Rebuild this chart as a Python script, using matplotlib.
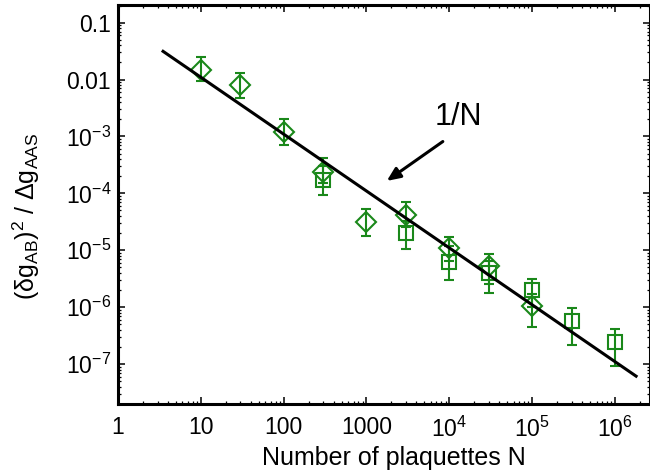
import numpy as np
import matplotlib
matplotlib.use("Agg")
import matplotlib.pyplot as plt

plt.rcParams['font.family'] = ['Liberation Sans', 'DejaVu Sans']
plt.rcParams['mathtext.fontset'] = 'custom'
plt.rcParams['mathtext.rm'] = 'Liberation Sans'
plt.rcParams['mathtext.it'] = 'Liberation Sans'
plt.rcParams['mathtext.bf'] = 'Liberation Sans'
plt.rcParams['mathtext.default'] = 'regular'

# Diamond series
dia_N = [10, 30, 100, 300, 1000, 3000, 1e4, 3e4, 1e5]
dia_y = [0.0147, 0.0081, 0.0012, 2.4e-4, 3.2e-5, 4.2e-5, 1.1e-5, 5.2e-6, 1.03e-6]
dia_lo = [0.0096, 0.0047, 0.00071, 1.5e-4, 1.75e-5, 2.6e-5, 6.5e-6, 2.5e-6, 4.4e-7]
dia_hi = [0.0247, 0.0129, 0.0020, 4.2e-4, 5.4e-5, 7.0e-5, 1.74e-5, 8.5e-6, 1.7e-6]

# Square series
sq_N = [300, 3000, 1e4, 3e4, 1e5, 3e5, 1e6]
sq_y = [1.73e-4, 2.05e-5, 6.3e-6, 4.0e-6, 2.0e-6, 5.6e-7, 2.45e-7]
sq_lo = [9.3e-5, 1.07e-5, 3.0e-6, 1.8e-6, 1.0e-6, 2.2e-7, 9.3e-8]
sq_hi = [3.0e-4, 3.3e-5, 1.2e-5, 6.5e-6, 3.1e-6, 9.5e-7, 4.2e-7]

# 1/N line
fit_N = [3.5, 1.8e6]
fit_coef = 0.11

x_ticks = [1, 10, 100, 1000, 1e4, 1e5, 1e6]
x_labels = ['1', '10', '100', '1000', '10$^{4}$', '10$^{5}$', '10$^{6}$']
y_ticks = [0.1, 0.01, 1e-3, 1e-4, 1e-5, 1e-6, 1e-7]
y_labels = ['0.1', '0.01', '10$^{-3}$', '10$^{-4}$', '10$^{-5}$', '10$^{-6}$', '10$^{-7}$']

green = '#1a881a'

fig = plt.figure(figsize=(6.5, 4.76), dpi=100)
ax = fig.add_axes([118/650, 1-404/476, 1-118/650, (404-5)/476])
ax.set_xscale('log')
ax.set_yscale('log')
ax.set_xlim(1, 2.65e6)
ax.set_ylim(1.98e-8, 0.205)

fN = np.array(fit_N)
ax.plot(fN, fit_coef / fN, color='black', lw=2.2, zorder=3)

def eb(N, y, lo, hi, marker, ms):
    y = np.array(y); lo = np.array(lo); hi = np.array(hi)
    ax.errorbar(N, y, yerr=[y - lo, hi - y], fmt=marker, ms=ms, mfc='none',
                mec=green, mew=1.5, ecolor=green, elinewidth=1.5,
                capsize=3.5, capthick=1.5, zorder=2)

eb(dia_N, dia_y, dia_lo, dia_hi, 'D', 10.5)
eb(sq_N, sq_y, sq_lo, sq_hi, 's', 10.5)

ax.set_xticks(x_ticks)
ax.set_xticklabels(x_labels)
ax.set_yticks(y_ticks)
ax.set_yticklabels(y_labels)
ax.xaxis.set_minor_locator(matplotlib.ticker.LogLocator(base=10, subs=np.arange(2, 10), numticks=20))
ax.yaxis.set_minor_locator(matplotlib.ticker.LogLocator(base=10, subs=np.arange(2, 10), numticks=20))
ax.xaxis.set_minor_formatter(matplotlib.ticker.NullFormatter())
ax.yaxis.set_minor_formatter(matplotlib.ticker.NullFormatter())
ax.tick_params(which='both', direction='in', top=True, right=True, labelsize=16.5, color='black')
ax.tick_params(which='major', length=5, width=1.1)
ax.tick_params(which='minor', length=2.5, width=0.9)
ax.tick_params(axis='x', pad=9)
ax.tick_params(axis='y', pad=5)
for s in ax.spines.values():
    s.set_linewidth(2.2)

ax.set_xlabel('Number of plaquettes N', fontsize=18)
ax.set_ylabel('(δg$_{AB}$)$^{2}$ / Δg$_{AAS}$', fontsize=18)
ax.xaxis.set_label_coords(0.519, -0.105)
ax.yaxis.set_label_coords(-0.143, 0.471)

ax.annotate('', xy=(1650, 1.55e-4), xytext=(8900, 8.7e-4),
            arrowprops=dict(arrowstyle='-|>,head_length=0.8,head_width=0.35', color='black', lw=2.2))
ax.text(1.3e4, 2.2e-3, '1/N', fontsize=22, ha='center', va='center')

fig.savefig('out.png', dpi=100)
